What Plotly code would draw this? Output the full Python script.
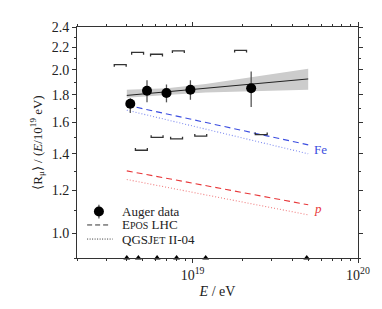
import numpy as np
import plotly.graph_objects as go

# ---------------- data ----------------
auger_E = [4.2e18, 5.3e18, 6.95e18, 9.7e18, 2.26e19]
auger_R = [1.733, 1.831, 1.814, 1.838, 1.851]
auger_err_up = [0.04, 0.083, 0.066, 0.076, 0.136]
auger_err_dn = [0.068, 0.088, 0.071, 0.076, 0.143]

# systematic brackets (energy-scale shifted)
sys_up_E = [3.65e18, 4.65e18, 6.05e18, 8.2e18, 1.95e19]
sys_up_R = [2.046, 2.154, 2.138, 2.168, 2.174]
sys_dn_E = [4.9e18, 6.1e18, 8.0e18, 1.12e19, 2.6e19]
sys_dn_R = [1.422, 1.502, 1.492, 1.510, 1.520]

# energy bin edges (triangles on the axis)
bin_edges = [4.0e18, 4.7e18, 6.1e18, 8.0e18, 1.2e19, 4.9e19]

# fit and its uncertainty band
fit_E = [4e18, 5e19]
fit_R = [1.795, 1.925]
band_E = [4e18, 7e18, 1.2e19, 2.5e19, 5e19]
band_lo = [1.778, 1.799, 1.818, 1.830, 1.839]
band_hi = [1.839, 1.850, 1.885, 1.951, 2.011]

# model predictions
model_E = [4e18, 5e19]
fe_epos = [1.722, 1.455]
fe_qgs = [1.686, 1.401]
p_epos = [1.303, 1.128]
p_qgs = [1.256, 1.081]

y_range = [0.9, 2.4]
x_range = [2e18, 1e20]
y_major = [1.0, 1.2, 1.4, 1.6, 1.8, 2.0, 2.2, 2.4]
y_minor = [0.9, 1.1, 1.3, 1.5, 1.7, 1.9, 2.1, 2.3]
x_major = [1e19, 1e20]
x_major_text = ["10<sup>19</sup>", "10<sup>20</sup>"]
x_minor = [2e18, 3e18, 4e18, 5e18, 6e18, 7e18, 8e18, 9e18,
           2e19, 3e19, 4e19, 5e19, 6e19, 7e19, 8e19, 9e19]

legend_labels = ["Auger data",
                 "E<span style='font-size:10px'>POS</span> LHC",
                 "QGSJ<span style='font-size:10px'>ET</span> II-04"]

FONT = "Liberation Serif"
TXT = "#222222"
AX = "#333333"
BLUE = "#3b4de0"
BLUE_L = "#7f8cf0"
RED = "#e8383a"
RED_L = "#f07f80"

fig = go.Figure()

# band
fig.add_trace(go.Scatter(
    x=band_E + band_E[::-1], y=band_hi + band_lo[::-1],
    fill="toself", fillcolor="#cccccc", line=dict(width=0),
    mode="lines", showlegend=False, hoverinfo="skip"))
fig.add_trace(go.Scatter(x=fit_E, y=fit_R, mode="lines",
                         line=dict(color="#222222", width=1),
                         showlegend=False))

# models
fig.add_trace(go.Scatter(x=model_E, y=fe_epos, mode="lines",
                         line=dict(color=BLUE, width=1.1, dash="6px,4px"), showlegend=False))
fig.add_trace(go.Scatter(x=model_E, y=fe_qgs, mode="lines",
                         line=dict(color=BLUE_L, width=1.1, dash="1px,2px"), showlegend=False))
fig.add_trace(go.Scatter(x=model_E, y=p_epos, mode="lines",
                         line=dict(color=RED, width=1.1, dash="6px,4px"), showlegend=False))
fig.add_trace(go.Scatter(x=model_E, y=p_qgs, mode="lines",
                         line=dict(color=RED_L, width=1.1, dash="1px,2px"), showlegend=False))

# systematic brackets
half_w = 0.036   # decades
tick_h = 0.004   # log10 units


def brackets(E_list, R_list, sign):
    xs, ys = [], []
    for E, R in zip(E_list, R_list):
        x1 = E * 10 ** (-half_w)
        x2 = E * 10 ** (half_w)
        r2 = R * 10 ** (sign * tick_h)
        xs += [x1, x1, x2, x2, None]
        ys += [r2, R, R, r2, None]
    return xs, ys


bx, by = brackets(sys_up_E, sys_up_R, -1)
fig.add_trace(go.Scatter(x=bx, y=by, mode="lines", line=dict(color="#333333", width=1.3),
                         showlegend=False, connectgaps=False))
bx, by = brackets(sys_dn_E, sys_dn_R, +1)
fig.add_trace(go.Scatter(x=bx, y=by, mode="lines", line=dict(color="#333333", width=1.3),
                         showlegend=False, connectgaps=False))

# data
fig.add_trace(go.Scatter(
    x=auger_E, y=auger_R, mode="markers", name="Auger data",
    marker=dict(color="black", size=10), showlegend=False,
    error_y=dict(type="data", symmetric=False, array=auger_err_up,
                 arrayminus=auger_err_dn, color="#555555", thickness=1.3, width=0)))

# bin edge triangles
fig.add_trace(go.Scatter(x=bin_edges, y=[y_range[0]] * len(bin_edges), mode="markers",
                         marker=dict(symbol="triangle-up", size=6, color="black"),
                         showlegend=False, cliponaxis=False))

# labels at the line ends
fig.add_annotation(x=np.log10(model_E[-1]), y=np.log10(fe_epos[-1]), text="Fe",
                   showarrow=False, xanchor="left", yanchor="middle", xshift=4, yshift=-5,
                   font=dict(family=FONT, size=13, color=BLUE))
fig.add_annotation(x=np.log10(model_E[-1]), y=np.log10(p_epos[-1]), text="<i>p</i>",
                   showarrow=False, xanchor="left", yanchor="middle", xshift=4, yshift=-4,
                   font=dict(family=FONT, size=13, color=RED))

# ---------------- manual legend (paper coordinates) ----------------
leg_rows = [0.201, 0.143, 0.082]
leg_key_x0, leg_key_x1 = 0.036, 0.120
leg_text_x = 0.153
# marker key with error bar
fig.add_shape(type="line", xref="paper", yref="paper",
              x0=(leg_key_x0 + leg_key_x1) / 2, x1=(leg_key_x0 + leg_key_x1) / 2,
              y0=leg_rows[0] - 0.03, y1=leg_rows[0] + 0.03,
              line=dict(color="#555555", width=1.3))
fig.add_shape(type="circle", xref="paper", yref="paper",
              xsizemode="pixel", ysizemode="pixel",
              xanchor=(leg_key_x0 + leg_key_x1) / 2, yanchor=leg_rows[0],
              x0=-5, x1=5, y0=-5, y1=5, fillcolor="black", line=dict(width=0))
fig.add_shape(type="line", xref="paper", yref="paper",
              x0=leg_key_x0, x1=leg_key_x1, y0=leg_rows[1], y1=leg_rows[1],
              line=dict(color="#333333", width=1, dash="5px,3px"))
fig.add_shape(type="line", xref="paper", yref="paper",
              x0=leg_key_x0, x1=leg_key_x1 + 0.007, y0=leg_rows[2], y1=leg_rows[2],
              line=dict(color="#333333", width=1, dash="1px,1.5px"))
for lab, yy in zip(legend_labels, leg_rows):
    fig.add_annotation(xref="paper", yref="paper", x=leg_text_x, y=yy, text=lab,
                       showarrow=False, xanchor="left", yanchor="middle",
                       font=dict(family=FONT, size=13, color=TXT))

axis_common = dict(showline=True, linecolor=AX, linewidth=1, mirror="ticks",
                   ticks="outside", ticklen=4, tickcolor=AX, showgrid=False,
                   zeroline=False)

fig.update_xaxes(type="log", range=[np.log10(x_range[0]), np.log10(x_range[1])],
                 tickvals=x_major, ticktext=x_major_text,
                 minor=dict(tickvals=x_minor, ticks="outside", ticklen=2, tickcolor=AX),
                 title=dict(text="<i>E</i> / eV", font=dict(family=FONT, size=14, color=TXT),
                            standoff=4),
                 tickfont=dict(family=FONT, size=14, color=TXT),
                 **axis_common)
fig.update_yaxes(type="log", range=[np.log10(y_range[0]), np.log10(y_range[1])],
                 tickvals=y_major, ticktext=[f"{v:.1f}" for v in y_major],
                 minor=dict(tickvals=y_minor, ticks="outside", ticklen=2, tickcolor=AX),
                 title=dict(text="⟨R<sub>μ</sub>⟩ / (<i>E</i>/10<sup>19</sup> eV)",
                            font=dict(family=FONT, size=13, color=TXT), standoff=6),
                 tickfont=dict(family=FONT, size=14, color=TXT),
                 **axis_common)

# page body has an 8px margin, so the figure is sized/offset to fit the window
fig.update_layout(
    width=374, height=301,
    margin=dict(l=69, r=24, t=14, b=43),
    paper_bgcolor="white", plot_bgcolor="white",
    font=dict(family=FONT, color=TXT),
    showlegend=False,
)

fig.write_html("out.html")
